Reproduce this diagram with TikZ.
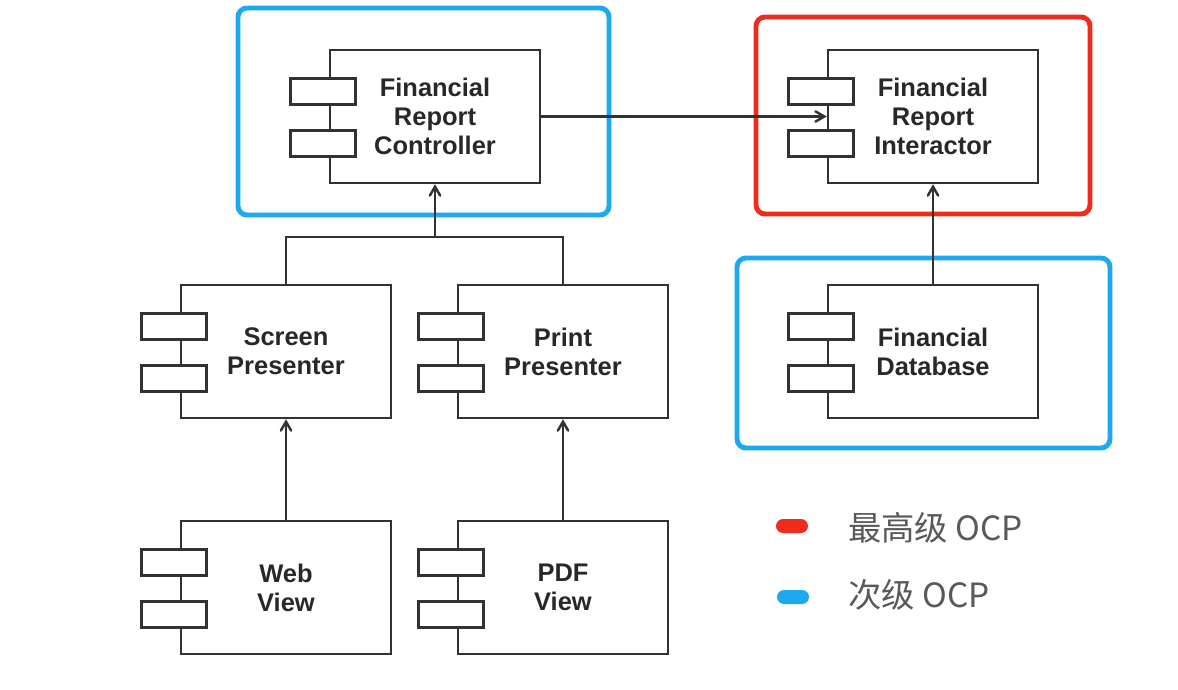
\documentclass[tikz,border=0pt]{standalone}
\usepackage{fontspec}
\setmainfont{Liberation Sans}
\newfontfamily\cjk{Noto Sans CJK SC}
\usetikzlibrary{arrows}

\definecolor{okblue}{RGB}{30,168,240}
\definecolor{okred}{RGB}{238,44,28}
\definecolor{ink}{RGB}{50,50,50}

\begin{document}
\begin{tikzpicture}[x=0.02cm,y=-0.02cm]

\tikzset{comp/.style = {shape=rectangle,draw=ink,line width=1.4pt,minimum width=4.2cm,minimum height=2.66cm,align=center,text=ink!80!black,font=\fontsize{14.5}{16.5}\selectfont\bfseries}}
\tikzset{tab/.style = {shape=rectangle,draw=ink,fill=white,line width=1.4pt,minimum width=1.3cm,minimum height=0.52cm,inner sep=0pt}}
\tikzset{edge/.style = {->,> = angle 60,draw=ink,line width=1.4pt}}
\tikzset{okframe/.style = {line width=2.8pt,rounded corners=0.18cm}}
\tikzset{pill/.style = {shape=rectangle,rounded corners=0.14cm,minimum width=0.64cm,minimum height=0.28cm,inner sep=0pt}}
\tikzset{legend/.style = {anchor=west,text=black!65,font=\cjk\fontsize{19}{22}\selectfont}}

\useasboundingbox[fill=white] (0,0) rectangle (1178,690);

% frames
\draw[okframe,draw=okblue] (238,8) rectangle (609,215);
\draw[okframe,draw=okred] (756,17) rectangle (1090,214);
\draw[okframe,draw=okblue] (737,258) rectangle (1110,448);

% components
\node[comp] (ctrl) at (435,116.5) {Financial\\Report\\Controller};
\node[comp] (inter) at (933,116.5) {Financial\\Report\\Interactor};
\node[comp] (db) at (933,351.5) {Financial\\Database};
\node[comp] (screen) at (286,351.5) {Screen\\Presenter};
\node[comp] (print) at (563,351.5) {Print\\Presenter};
\node[comp] (web) at (286,587.5) {Web\\View};
\node[comp] (pdf) at (563,587.5) {PDF\\View};
\foreach \n in {ctrl,inter,db,screen,print,web,pdf} {
  \node[tab] at ([xshift=-0.12cm,yshift=0.5cm]\n.west) {};
  \node[tab] at ([xshift=-0.12cm,yshift=-0.54cm]\n.west) {};
}

% edges
\coordinate (join) at (435,237);
\draw[draw=ink,line width=1.4pt] (screen.north) |- (join) -| (print.north);
\draw[edge] (join) to (ctrl.south);
\draw[edge] (ctrl) to (inter);
\draw[edge] (db) to (inter);
\draw[edge] (web) to (screen);
\draw[edge] (pdf) to (print);

% legend
\node[pill,fill=okred] (redkey) at (792,526) {};
\node[legend] (redtext) at (842,528) {最高级 OCP};
\node[pill,fill=okblue] (bluekey) at (793,597) {};
\node[legend] (bluetext) at (842,595) {次级 OCP};
\end{tikzpicture}
\end{document}
